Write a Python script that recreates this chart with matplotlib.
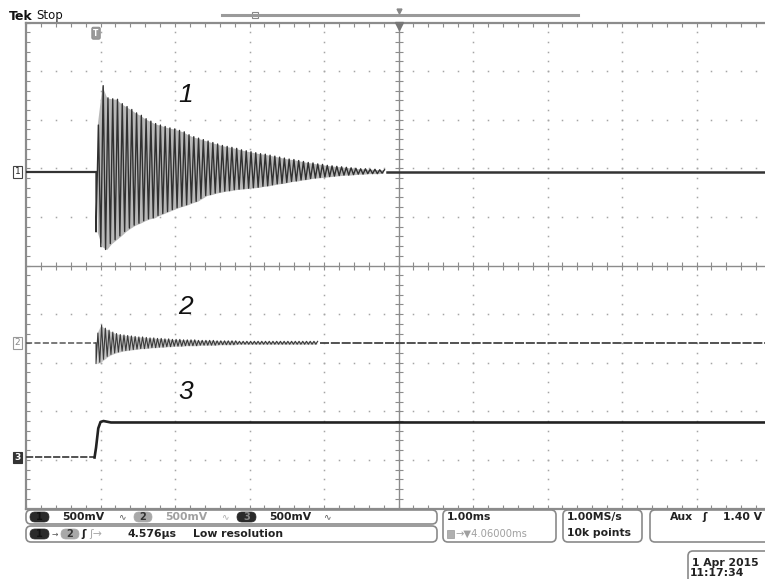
import numpy as np
import matplotlib
matplotlib.use("Agg")
import matplotlib.pyplot as plt
from matplotlib.patches import FancyBboxPatch, Rectangle

# ---------------- data (time in ms from trigger, amplitude in divisions) ----------------
t_left, t_right = -0.94, 9.06          # screen time span (1.00 ms/div, trigger -> centre 4.06 ms)
t_center = 4.06

ch1_offset = 1.93
ch1_period_ms = 0.064
ch1_up = [0.96, 1.77, 1.52, 1.50, 1.49, 1.40, 1.34, 1.28, 1.21, 1.16, 1.09, 1.04, 0.99,
          0.96, 0.93, 0.90, 0.88, 0.85, 0.82, 0.76, 0.72, 0.69, 0.66, 0.63, 0.60, 0.57,
          0.54, 0.52, 0.50, 0.48, 0.45, 0.43, 0.41, 0.39, 0.37, 0.36, 0.34, 0.32, 0.30,
          0.28, 0.26, 0.25, 0.23, 0.21, 0.19, 0.18, 0.16, 0.15, 0.13, 0.12, 0.11, 0.10,
          0.09, 0.08, 0.07, 0.06, 0.06, 0.05, 0.05, 0.04, 0.04]
ch1_down = [1.24, 1.54, 1.60, 1.48, 1.40, 1.32, 1.23, 1.16, 1.10, 1.06, 1.01, 0.97, 0.95,
            0.90, 0.86, 0.82, 0.78, 0.74, 0.71, 0.68, 0.64, 0.61, 0.55, 0.49, 0.47, 0.44,
            0.42, 0.40, 0.39, 0.37, 0.36, 0.35, 0.34, 0.33, 0.32, 0.30, 0.29, 0.27, 0.25,
            0.24, 0.22, 0.20, 0.19, 0.17, 0.16, 0.14, 0.13, 0.12, 0.11, 0.10, 0.09, 0.08,
            0.07, 0.07, 0.06, 0.05, 0.05, 0.04, 0.04, 0.04, 0.03]

ch2_offset = -1.59
ch2_period_ms = 0.05
ch2_up = [0.20, 0.36, 0.30, 0.26, 0.22, 0.19, 0.17, 0.16, 0.15, 0.14, 0.13, 0.12, 0.12,
          0.11, 0.10, 0.10, 0.09, 0.09, 0.08, 0.08, 0.07, 0.07, 0.07, 0.06, 0.06, 0.06,
          0.06, 0.05, 0.05, 0.05, 0.05, 0.05, 0.04, 0.04, 0.04, 0.04, 0.04, 0.04, 0.03, 0.03,
          0.03, 0.03, 0.03, 0.03, 0.03, 0.03, 0.03, 0.03, 0.03, 0.03, 0.03, 0.03, 0.03, 0.03,
          0.03, 0.03, 0.03, 0.03, 0.03, 0.03]
ch2_down = [0.43, 0.40, 0.34, 0.28, 0.24, 0.21, 0.19, 0.17, 0.16, 0.15, 0.14, 0.13, 0.12,
            0.12, 0.11, 0.10, 0.10, 0.09, 0.09, 0.08, 0.08, 0.07, 0.07, 0.07, 0.06, 0.06,
            0.06, 0.06, 0.05, 0.05, 0.05, 0.05, 0.05, 0.04, 0.04, 0.04, 0.04, 0.04, 0.03, 0.03,
            0.03, 0.03, 0.03, 0.03, 0.03, 0.03, 0.03, 0.03, 0.03, 0.03, 0.03, 0.03, 0.03, 0.03,
            0.03, 0.03, 0.03, 0.03, 0.03, 0.03]

ch3_t = [-0.94, -0.02, 0.00, 0.03, 0.06, 0.10, 0.20, 9.06]
ch3_v = [-3.95, -3.95, -3.75, -3.35, -3.22, -3.20, -3.23, -3.23]

status_row1 = ["500mV", "500mV", "500mV"]
delta_text = "4.576\u03bcs"
timebase = "1.00ms"
delay = "\u2192\u25bc4.06000ms"
sample_rate = ["1.00MS/s", "10k points"]
trigger_level = "1.40 V"
date_lines = ["1 Apr 2015", "11:17:34"]

# ---------------- figure ----------------
W, H = 765, 579
fig = plt.figure(figsize=(W / 100, H / 100), dpi=100)
fig.patch.set_facecolor("white")

gl, gr, gt, gb = 26, 771, 22.5, 508.5
ax = fig.add_axes([gl / W, (H - gb) / H, (gr - gl) / W, (gb - gt) / H])
ax.set_xlim(t_left, t_right)
ax.set_ylim(-5, 5)
ax.set_facecolor("white")
grid_c = "#8c8c8c"
for s in ax.spines.values():
    s.set_color(grid_c)
    s.set_linewidth(1.6)
ax.set_xticks([t_left + 0.2 * i for i in range(51)])
ax.set_yticks([-5 + 0.2 * i for i in range(51)])
ax.set_xticklabels([])
ax.set_yticklabels([])
ax.tick_params(direction="in", length=3, width=0.8, color=grid_c,
               top=True, right=True, bottom=True, left=True)

# dotted graticule
for i in range(1, 10):
    if i == 5:
        continue
    xv = t_left + i
    ys = [-5 + 0.2 * j for j in range(1, 50)]
    ax.plot([xv] * len(ys), ys, ls="none", marker="s", ms=1.1, mec="none", mfc="#a5a5a5", zorder=1)
    yv = -5 + i
    xs = [t_left + 0.2 * j for j in range(1, 50)]
    ax.plot(xs, [yv] * len(xs), ls="none", marker="s", ms=1.1, mec="none", mfc="#a5a5a5", zorder=1)

# centre cross with ticks
ax.axvline(t_center, color=grid_c, lw=1.0, zorder=1)
ax.axhline(0, color=grid_c, lw=1.0, zorder=1)
ax.plot([t_center] * 49, [-5 + 0.2 * j for j in range(1, 50)], ls="none", marker="_",
        ms=6, mew=0.8, color=grid_c, zorder=1)
ax.plot([t_left + 0.2 * j for j in range(1, 50)], [0] * 49, ls="none", marker="|",
        ms=6, mew=0.8, color=grid_c, zorder=1)
ax.plot([t_center], [4.93], marker="v", ms=6, color="#777777", clip_on=False, zorder=5)


def burst(offset, period, ups, downs):
    ts, vs = [0.0], [offset]
    for k, (u, d) in enumerate(zip(ups, downs)):
        ts += [k * period, k * period + period / 2]
        vs += [offset - d, offset + u]
    return ts, vs, len(ups) * period


def envelope(offset, period, ups, downs):
    te = [k * period + period / 4 for k in range(len(ups))]
    hi = [offset + u for u in ups]
    lo = [offset - d for d in downs]
    return te, hi, lo


# channel 1
t1, v1, end1 = burst(ch1_offset, ch1_period_ms, ch1_up, ch1_down)
te1, hi1, lo1 = envelope(ch1_offset, ch1_period_ms, ch1_up, ch1_down)
ax.fill_between(te1, lo1, hi1, color="#b8b8b8", lw=0, zorder=2)
ax.plot([t_left, 0], [ch1_offset, ch1_offset], color="#333333", lw=1.6, zorder=3)
ax.plot(t1, v1, color="#303030", lw=1.0, zorder=3)
ax.plot([end1, t_right], [ch1_offset, ch1_offset], color="#333333", lw=1.8, zorder=3)

# channel 2
t2, v2, end2 = burst(ch2_offset, ch2_period_ms, ch2_up, ch2_down)
te2, hi2, lo2 = envelope(ch2_offset, ch2_period_ms, ch2_up, ch2_down)
ax.fill_between(te2, lo2, hi2, color="#c4c4c4", lw=0, zorder=2)
ax.plot([t_left, 0], [ch2_offset, ch2_offset], color="#555555", lw=1.1,
        ls=(0, (4, 1.5)), zorder=3)
ax.plot(t2, v2, color="#3a3a3a", lw=0.8, zorder=3)
ax.plot([end2, t_right], [ch2_offset, ch2_offset], color="#444444", lw=1.3,
        ls=(0, (5, 1)), zorder=3)

# channel 3
ax.plot(ch3_t[:2], ch3_v[:2], color="#444444", lw=1.3, ls=(0, (4, 1)), zorder=3)
ax.plot(ch3_t[1:], ch3_v[1:], color="#222222", lw=1.9, zorder=3)

# channel markers on the left
yx = ax.get_yaxis_transform()
ax.text(-0.0115, ch1_offset, "1", transform=yx, ha="center", va="center", fontsize=6.5,
        color="#222222", clip_on=False,
        bbox=dict(boxstyle="square,pad=0.15", fc="white", ec="#444444", lw=0.8))
ax.text(-0.0115, ch2_offset, "2", transform=yx, ha="center", va="center", fontsize=6.5,
        color="#888888", clip_on=False,
        bbox=dict(boxstyle="square,pad=0.15", fc="white", ec="#999999", lw=0.8))
ax.text(-0.0115, ch3_v[0], "3", transform=yx, ha="center", va="center", fontsize=6.5,
        color="white", fontweight="bold", clip_on=False,
        bbox=dict(boxstyle="square,pad=0.15", fc="#333333", ec="#333333", lw=0.8))

# trigger position marker
ax.text(0.0, 4.78, "T", ha="center", va="center", fontsize=5.5, color="white",
        fontweight="bold", clip_on=False,
        bbox=dict(boxstyle="round,pad=0.2", fc="#9a9a9a", ec="#888888", lw=0.6))

# italic trace numbers
for lab, tx, ty in [("1", 1.2, 3.5), ("2", 1.2, -0.85), ("3", 1.2, -2.6)]:
    ax.text(tx, ty, lab, fontsize=19, style="italic", family="Liberation Sans",
            ha="center", va="center", color="#111111")

# ---------------- overlay (screen decorations) ----------------
ov = fig.add_axes([0, 0, 1, 1])
ov.set_xlim(0, W)
ov.set_ylim(H, 0)
ov.axis("off")

ov.text(9, 16, "Tek", fontsize=9, fontweight="bold", color="#111111", va="center")
ov.text(36, 16, "Stop", fontsize=8.5, color="#111111", va="center")

# record view bar
ov.plot([222, 578], [15, 15], color="#9a9a9a", lw=2.2)
ov.add_patch(Rectangle((252, 12), 6, 6, fc="white", ec="#888888", lw=0.8))
ov.plot([399], [11], marker="v", ms=3.5, color="#888888")

# status boxes
def rbox(x0, y0, x1, y1, ec="#8a8a8a"):
    ov.add_patch(FancyBboxPatch((x0, y0), x1 - x0, y1 - y0,
                                boxstyle="round,pad=0,rounding_size=5",
                                fc="white", ec=ec, lw=1.2))

rbox(26, 510, 437, 524)
rbox(26, 526, 437, 542)
rbox(443, 510, 556, 542)
rbox(563, 510, 642, 542)
rbox(650, 510, 800, 542)
rbox(688, 551, 800, 590)


def badge(x0, x1, yc, txt, fc, tc):
    ov.add_patch(FancyBboxPatch((x0, yc - 5), x1 - x0, 10,
                                boxstyle="round,pad=0,rounding_size=5",
                                fc=fc, ec=fc, lw=0.5))
    ov.text((x0 + x1) / 2, yc, txt, fontsize=7, fontweight="bold", color=tc,
            ha="center", va="center")


sfs = 7.8
y1r, y2r = 517, 534
badge(30, 49, y1r, "1", "#2a2a2a", "#111111")
ov.text(62, y1r, status_row1[0], fontsize=sfs, fontweight="bold", color="#222222", va="center")
ov.text(118, y1r, "\u223f", fontsize=6.5, color="#555555", va="center")
badge(134, 152, y1r, "2", "#a8a8a8", "#333333")
ov.text(165, y1r, status_row1[1], fontsize=sfs, fontweight="bold", color="#a0a0a0", va="center")
ov.text(221, y1r, "\u223f", fontsize=6.5, color="#aaaaaa", va="center")
badge(237, 256, y1r, "3", "#2a2a2a", "#888888")
ov.text(269, y1r, status_row1[2], fontsize=sfs, fontweight="bold", color="#222222", va="center")
ov.text(323, y1r, "\u223f", fontsize=6.5, color="#555555", va="center")

badge(30, 49, y2r, "1", "#2a2a2a", "#111111")
ov.text(52, y2r, "\u2192", fontsize=5.5, color="#555555", va="center")
badge(61, 79, y2r, "2", "#a8a8a8", "#333333")
ov.text(81, y2r, "\u0283", fontsize=sfs, fontweight="bold", color="#222222", va="center")
ov.text(89, y2r, "\u0283\u2192", fontsize=sfs, color="#aaaaaa", va="center")
ov.text(128, y2r, delta_text, fontsize=sfs, fontweight="bold", color="#222222", va="center")
ov.text(193, y2r, "Low resolution", fontsize=sfs, fontweight="bold", color="#222222", va="center")

ov.text(447, y1r, timebase, fontsize=sfs, fontweight="bold", color="#222222", va="center")
ov.add_patch(Rectangle((447, y2r - 4), 7, 8, fc="#b0b0b0", ec="#999999", lw=0.5))
ov.text(455, y2r, delay, fontsize=7.2, color="#a0a0a0", va="center")
ov.text(567, y1r, sample_rate[0], fontsize=sfs, fontweight="bold", color="#222222", va="center")
ov.text(567, y2r - 1, sample_rate[1], fontsize=sfs, fontweight="bold", color="#222222", va="center")
ov.text(670, y1r, "Aux", fontsize=sfs, fontweight="bold", color="#222222", va="center")
ov.text(702, y1r, "\u0283", fontsize=sfs, fontweight="bold", color="#222222", va="center")
ov.text(723, y1r, trigger_level, fontsize=sfs, fontweight="bold", color="#222222", va="center")
ov.text(692, 563, date_lines[0], fontsize=sfs, fontweight="bold", color="#222222", va="center")
ov.text(690, 573.5, date_lines[1], fontsize=sfs, fontweight="bold", color="#222222", va="center")

fig.savefig("out.png", dpi=100)
